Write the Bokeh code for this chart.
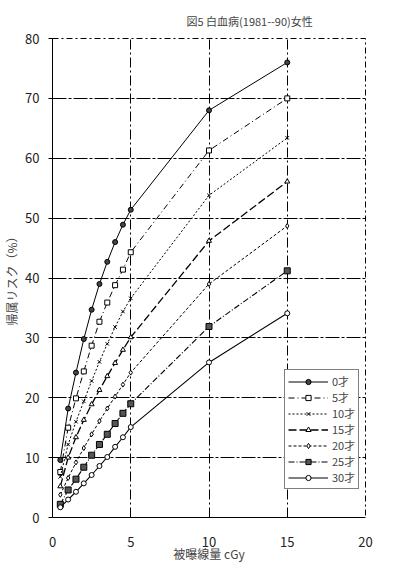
from bokeh.plotting import figure
from bokeh.models import Range1d, FixedTicker, Legend, LegendItem
from bokeh.embed import file_html
from bokeh.resources import INLINE

# ---- data ----
dose = [0.5, 1, 1.5, 2, 2.5, 3, 3.5, 4, 4.5, 5, 10, 15]
age0 = [9.6, 18.2, 24.2, 29.8, 34.7, 39.0, 42.7, 46.0, 48.9, 51.4, 68.0, 76.0]
age5 = [7.6, 15.0, 19.9, 24.4, 28.7, 32.7, 35.9, 38.8, 41.4, 44.3, 61.3, 70.0]
age10 = [6.8, 12.2, 16.0, 19.4, 22.8, 26.0, 29.0, 31.8, 34.4, 36.6, 53.8, 63.4]
age15 = [5.2, 10.0, 13.4, 16.3, 18.9, 21.3, 23.6, 25.8, 28.0, 30.1, 46.2, 56.1]
age20 = [3.8, 6.6, 9.2, 11.6, 13.9, 16.1, 18.2, 20.2, 22.2, 24.2, 39.0, 48.7]
age25 = [2.2, 4.6, 6.4, 8.4, 10.4, 12.2, 13.9, 15.7, 17.4, 19.0, 31.9, 41.2]
age30 = [1.7, 3.0, 4.3, 5.7, 7.1, 8.6, 10.1, 11.8, 13.4, 15.1, 25.9, 34.1]
series_labels = ["0才", "5才", "10才", "15才", "20才", "25才", "30才"]
x_ticks = [0, 5, 10, 15, 20]
y_ticks = [0, 10, 20, 30, 40, 50, 60, 70, 80]

FONT = "Noto Sans CJK JP"

p = figure(width=382, height=564, x_range=Range1d(0, 20), y_range=Range1d(0, 80),
           output_backend="svg", toolbar_location=None,
           min_border_left=50, min_border_right=17, min_border_top=38, min_border_bottom=46,
           title="図5 白血病(1981--90)女性")
p.background_fill_color = "white"
p.border_fill_color = "white"
p.outline_line_color = "black"
p.outline_line_dash = "6 3 2 3"

p.title.text_font = FONT
p.title.text_font_size = "11px"
p.title.text_font_style = "normal"
p.title.align = "left"
p.title.offset = 134
p.title.standoff = 20

# axes
p.xaxis.ticker = FixedTicker(ticks=x_ticks)
p.yaxis.ticker = FixedTicker(ticks=y_ticks)
for ax in (p.xaxis[0], p.yaxis[0]):
    ax.axis_line_color = "black"
    ax.major_label_text_font = FONT
    ax.major_label_text_font_size = "13px"
    ax.major_label_text_color = "#222222"
    ax.axis_label_text_font = FONT
    ax.axis_label_text_font_size = "12px"
    ax.axis_label_text_font_style = "normal"
    ax.minor_tick_line_color = None
p.xaxis.major_tick_line_color = None
p.xaxis.major_label_standoff = 13
p.xaxis.axis_label = "被曝線量 cGy"
p.xaxis.axis_label_standoff = -5
p.yaxis.major_tick_in = 0
p.yaxis.major_tick_out = 4
p.yaxis.major_label_standoff = 9
p.yaxis.axis_label = "帰属リスク（%）"
p.yaxis.axis_label_standoff = 2

# grid
p.xgrid.ticker = FixedTicker(ticks=[5, 10, 15])
p.ygrid.ticker = FixedTicker(ticks=[10, 20, 30, 40, 50, 60, 70])
p.xgrid.grid_line_color = "black"
p.xgrid.grid_line_dash = "10 3 2 3"
p.ygrid.grid_line_color = "black"
p.ygrid.grid_line_dash = "14 2 3 2"

series = [age0, age5, age10, age15, age20, age25, age30]
dashes = ["solid", "6 3 1 3", "2 2", "8 3", "3 2", "6 2 1 2", "solid"]
widths = [1, 1, 1, 1.3, 1, 1.1, 1.1]
markers = ["circle", "square", "x", "triangle", "diamond", "square", "circle"]
fills = ["#444444", "white", "white", "white", "white", "#555555", "white"]
sizes = [5, 5, 5, 5, 5, 6, 5]

items = []
for lab, ys, d, w, m, f, s in zip(series_labels, series, dashes, widths, markers, fills, sizes):
    r1 = p.line(dose, ys, line_color="black", line_dash=d, line_width=w)
    r2 = p.scatter(dose, ys, marker=m, size=s, line_color="black", fill_color=f, line_width=1)
    items.append(LegendItem(label=lab, renderers=[r1, r2]))

legend = Legend(items=items, location=(232, 28))
legend.label_text_font = FONT
legend.label_text_font_size = "11px"
legend.glyph_width = 40
legend.glyph_height = 13
legend.label_height = 13
legend.label_standoff = 4
legend.spacing = 0
legend.padding = 3
legend.margin = 0
legend.border_line_color = "black"
legend.border_line_width = 1
legend.background_fill_color = "white"
legend.background_fill_alpha = 1
p.add_layout(legend)

open("out.html", "w").write(file_html(p, INLINE))
